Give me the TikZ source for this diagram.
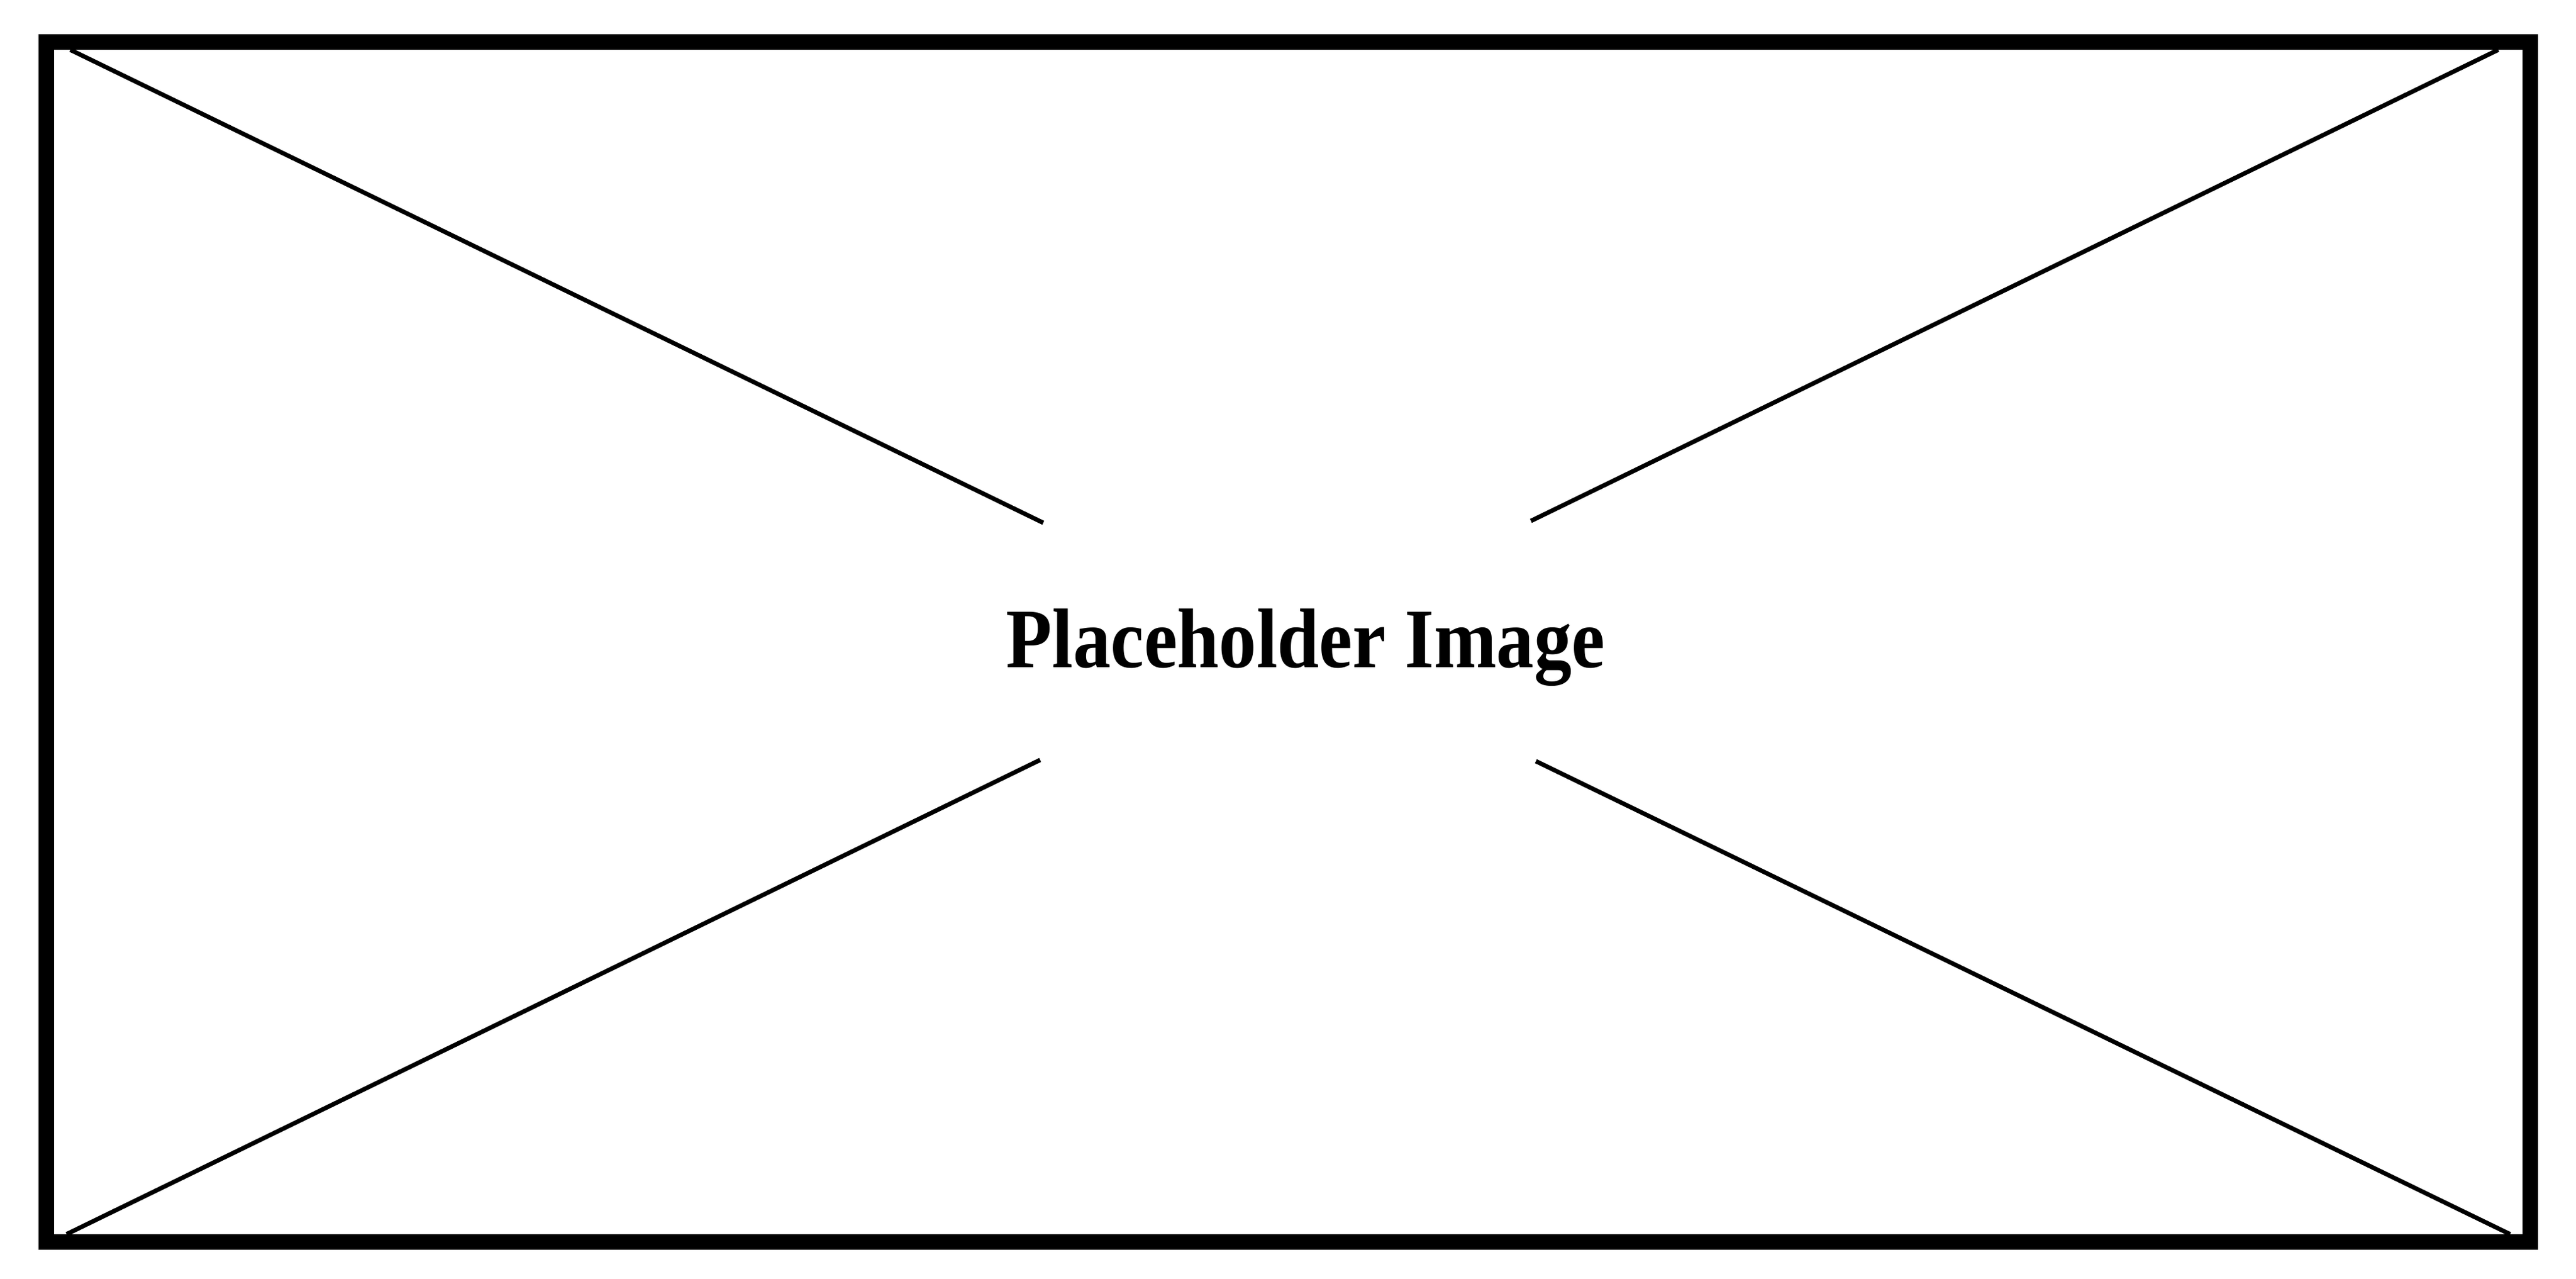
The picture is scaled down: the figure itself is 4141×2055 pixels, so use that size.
\documentclass[tikz,border=0pt]{standalone}
\usepackage{fontspec}
\setmainfont{Liberation Serif}
\tikzset{
  frame/.style={draw=black, line width=7.1pt},
  cross/.style={draw=black, line width=2pt},
  label/.style={inner sep=0pt, font=\bfseries\fontsize{38.7}{40}\selectfont}
}
\begin{document}
\begin{tikzpicture}[x=0.01cm, y=-0.01cm]
  \useasboundingbox (0,0) rectangle (4141,2055);
  % frame
  \coordinate (ftl) at (74.5,67.5);
  \coordinate (fbr) at (4067.5,1995.5);
  \draw[frame] (ftl) rectangle (fbr);
  % cross ends
  \coordinate (tl) at (113,80);
  \coordinate (br) at (4035,1983);
  \coordinate (tr) at (4016,80);
  \coordinate (bl) at (107,1983);
  \coordinate (gtl) at (1677,840);
  \coordinate (gbr) at (2469,1223);
  \coordinate (gtr) at (2461,837);
  \coordinate (gbl) at (1672,1221);
  \draw[cross] (tl) -- (gtl);
  \draw[cross] (gbr) -- (br);
  \draw[cross] (tr) -- (gtr);
  \draw[cross] (gbl) -- (bl);
  % text
  \node[label, anchor=base] (txt) at (2099,1072) {\scalebox{0.887}[1]{Placeholder Image}};
\end{tikzpicture}
\end{document}
